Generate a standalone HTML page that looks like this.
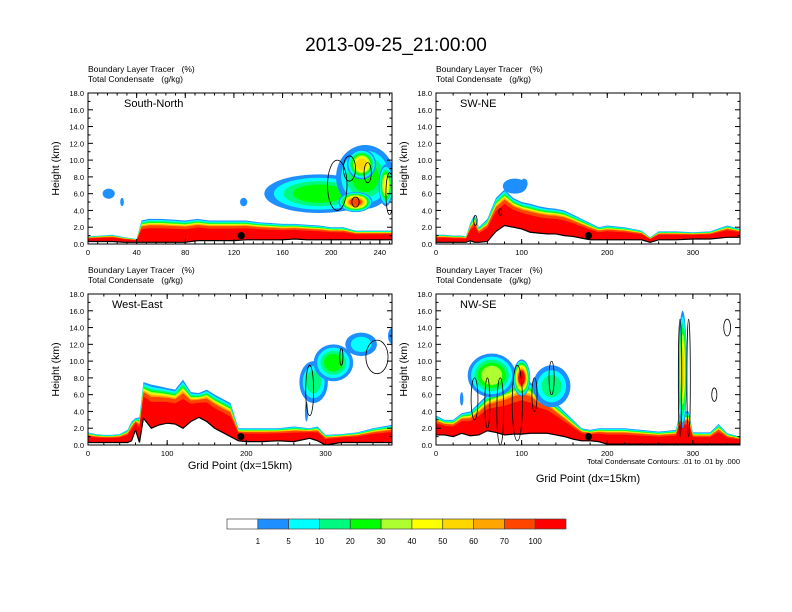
<!DOCTYPE html>
<html><head><meta charset="utf-8">
<style>
body{margin:0;background:#fff;}
svg{display:block;font-family:"Liberation Sans",sans-serif;}
text{white-space:pre;}
</style></head>
<body>
<svg id="fig" width="792" height="612" viewBox="0 0 792 612">
<rect width="792" height="612" fill="#fff"/>
<text x="396" y="51" text-anchor="middle" font-size="19">2013-09-25_21:00:00</text>
</svg>
<script>
const colors=["#ffffff","#1e8fff","#00ffff","#00fa7f","#00ff00","#adff2f","#ffff00","#ffd700","#ffa500","#ff4500","#ff0000"];
const cbLabels=["1","5","10","20","30","40","50","60","70","100"];
const yTicks=[0,2,4,6,8,10,12,14,16,18];

// Panel 1 South-North
const p1x=[0,10,20,30,40,44,50,60,70,80,90,100,110,120,130,140,150,160,170,180,190,200,210,220,230,240,250];
const p1terrain=[0.3,0.3,0.3,0.2,0.2,0.2,0.2,0.2,0.2,0.2,0.4,0.4,0.4,0.4,0.5,0.5,0.5,0.5,0.6,0.5,0.5,0.5,0.5,0.5,0.5,0.5,0.5];
const p1top=[0.9,1.0,1.1,0.8,0.6,2.8,3.0,3.0,2.9,2.8,3.0,2.8,2.8,2.8,2.8,2.6,2.5,2.4,2.4,2.3,2.2,2.0,2.0,1.6,1.6,1.6,1.6];
const p1cx=[17,28,128,190,228,225,220,245];
const p1cy=[6.0,5.0,5.0,6.0,8.0,9.5,5.0,7.0];
const p1rx=[5,1.5,3,45,24,12,14,6];
const p1ry=[0.6,0.5,0.5,2.3,3.8,1.8,1.2,2.5];
const p1lvl=[0,0,0,3,3,6,8,5];
const p1kx=[205,215,230,220,248];
const p1ky=[7.0,9.0,8.5,5.0,6.0];
const p1krx=[8,5,3,3,3];
const p1kry=[3,1.5,1.2,0.6,2.5];

// Panel 2 SW-NE
const p2x=[0,10,20,30,35,40,45,50,60,70,80,90,100,110,120,130,140,150,160,170,180,190,200,220,240,250,260,280,300,320,340,355];
const p2terrain=[0.2,0.2,0.2,0.2,0.2,0.4,0.2,0.2,0.3,1.5,2.2,2.0,1.8,1.4,1.3,1.2,1.2,1.0,0.9,0.7,0.5,0.5,0.5,0.5,0.5,0.2,0.5,0.5,0.6,0.6,0.8,0.8];
const p2top=[1.1,1.1,1.0,1.0,0.9,2.5,3.5,2.0,3.0,5.5,6.5,5.5,5.0,4.8,4.5,4.3,4.2,4.0,3.5,3.0,2.5,2.0,2.2,2.0,1.6,0.8,1.5,1.5,1.4,1.5,2.2,1.8];
const p2cx=[92,103];
const p2cy=[6.9,7.2];
const p2rx=[14,4];
const p2ry=[0.9,0.6];
const p2lvl=[0,0];
const p2kx=[46,75];
const p2ky=[2.8,3.8];
const p2krx=[2,1.5];
const p2kry=[0.6,0.4];

// Panel 3 West-East
const p3x=[0,10,20,30,40,50,55,60,65,70,80,90,100,110,120,130,140,150,160,170,180,190,200,220,240,260,280,290,300,320,340,360,384];
const p3terrain=[0.3,0.3,0.3,0.3,0.3,0.3,0.5,1.8,0.3,3.2,2.0,2.4,2.6,2.5,2.0,2.8,3.3,2.8,2.0,1.5,1.0,0.5,0.4,0.4,0.5,0.4,0.8,0.5,0.0,0.3,0.3,0.3,0.3];
const p3top=[1.5,1.3,1.2,1.2,1.3,1.8,2.8,3.2,3.3,7.5,7.2,7.0,6.8,6.6,7.8,6.3,6.2,6.6,6.0,5.5,5.0,2.0,2.0,2.0,2.0,2.2,2.0,2.2,1.2,1.3,1.5,2.0,2.4];
const p3cx=[285,310,345,385,276];
const p3cy=[7.5,9.8,12.0,13.0,4.0];
const p3rx=[18,25,20,6,2];
const p3ry=[2.5,2.2,1.4,1.0,1.2];
const p3lvl=[2,3,1,0,0];
const p3kx=[280,320,365];
const p3ky=[6.5,10.5,10.5];
const p3krx=[5,2,14];
const p3kry=[3,1,2];

// Panel 4 NW-SE
const p4x=[0,10,20,30,40,50,60,70,80,90,100,110,120,130,140,150,160,170,180,190,200,220,240,260,280,285,295,300,320,330,340,355];
const p4terrain=[1.2,1.2,1.0,1.4,1.1,1.2,1.7,1.5,1.2,1.3,1.3,1.4,1.4,1.4,1.2,1.0,0.7,0.5,0.5,0.4,0.1,0.1,0.1,0.1,0.1,0.1,0.1,0.1,0.1,0.1,0.1,0.1];
const p4top=[3.5,3.0,3.0,3.8,4.0,5.0,6.0,6.5,7.0,7.5,8.0,7.5,6.5,6.0,5.0,4.0,3.0,2.0,1.8,2.0,2.0,2.0,1.8,1.6,1.8,4,4,1.5,1.5,2.5,1.4,1.0];
const p4cx=[65,100,135,288,30];
const p4cy=[8.3,8.0,7.0,9.0,5.5];
const p4rx=[28,10,22,5,2];
const p4ry=[2.6,2.2,2.5,7.0,0.8];
const p4lvl=[4,9,2,6,0];
const p4kx=[45,60,75,95,115,135,285,295,340,325];
const p4ky=[5.5,5,4,5,6,8,8,8,14,6];
const p4krx=[4,3,4,6,3,3,2,2,4,3];
const p4kry=[2.5,3,4,4.5,2,2,7,7,1,0.8];

const NS="http://www.w3.org/2000/svg";
const svg=document.getElementById('fig');
function mk(tag,attrs,parent){const e=document.createElementNS(NS,tag);for(const k in attrs)e.setAttribute(k,attrs[k]);(parent||svg).appendChild(e);return e;}
const fracs=[1,0.95,0.9,0.86,0.83,0.8,0.78,0.76,0.72,0.6];

const panels=[
 {name:"south-north",label:"South-North",x0:88,y0:93,w:304,h:151,xmax:250,xt:[0,40,80,120,160,200,240],xminor:8,xs:p1x,ter:p1terrain,top:p1top,cx:p1cx,cy:p1cy,rx:p1rx,ry:p1ry,lv:p1lvl,kx:p1kx,ky:p1ky,krx:p1krx,kry:p1kry,dot:126},
 {name:"sw-ne",label:"SW-NE",x0:436,y0:93,w:304,h:151,xmax:355,xt:[0,100,200,300],xminor:20,xs:p2x,ter:p2terrain,top:p2top,cx:p2cx,cy:p2cy,rx:p2rx,ry:p2ry,lv:p2lvl,kx:p2kx,ky:p2ky,krx:p2krx,kry:p2kry,dot:178},
 {name:"west-east",label:"West-East",x0:88,y0:294,w:304,h:151,xmax:384,xt:[0,100,200,300],xminor:20,xs:p3x,ter:p3terrain,top:p3top,cx:p3cx,cy:p3cy,rx:p3rx,ry:p3ry,lv:p3lvl,kx:p3kx,ky:p3ky,krx:p3krx,kry:p3kry,dot:193,xtitle:true},
 {name:"nw-se",label:"NW-SE",x0:436,y0:294,w:304,h:151,xmax:355,xt:[0,100,200,300],xminor:20,xs:p4x,ter:p4terrain,top:p4top,cx:p4cx,cy:p4cy,rx:p4rx,ry:p4ry,lv:p4lvl,kx:p4kx,ky:p4ky,krx:p4krx,kry:p4kry,dot:178,xtitle:true,note:true}
];

panels.forEach((p,pi)=>{
 const X=v=>p.x0+v/p.xmax*p.w;
 const Y=v=>p.y0+p.h-v/18*p.h;
 const g=mk('g',{});
 
 
 const clipId='clip'+pi;
 const cp=mk('clipPath',{id:clipId},g);
 mk('rect',{x:p.x0,y:p.y0,width:p.w,height:p.h},cp);
 const plot=mk('g',{'clip-path':'url(#'+clipId+')'},g);
 
 
 for(let k=0;k<fracs.length;k++){
  let d='M'+X(p.xs[0])+','+Y(p.ter[0]);
  for(let i=0;i<p.xs.length;i++){d+=' L'+X(p.xs[i])+','+Y(p.ter[i]+(p.top[i]-p.ter[i])*fracs[k]);}
  for(let i=p.xs.length-1;i>=0;i--){d+=' L'+X(p.xs[i])+','+Y(p.ter[i]);}
  const band=mk('path',{d:d+'Z',fill:colors[k+1]},plot);
  
  
 }
 for(let c=0;c<p.cx.length;c++){
  for(let L=0;L<=p.lv[c];L++){
   const s=1-L/(p.lv[c]+1)*0.7;
   const e=mk('ellipse',{cx:X(p.cx[c]),cy:Y(p.cy[c]),rx:p.rx[c]/p.xmax*p.w*s,ry:p.ry[c]/18*p.h*s,fill:colors[L+1]},plot);
   
   
  }
 }
 let td='';
 for(let i=0;i<p.xs.length;i++){td+=(i?' L':'M')+X(p.xs[i])+','+Y(p.ter[i]);}
 const tl=mk('path',{d:td,fill:'none',stroke:'#000','stroke-width':1.2},plot);
 
 
 for(let c=0;c<p.kx.length;c++){
  const e=mk('ellipse',{cx:X(p.kx[c]),cy:Y(p.ky[c]),rx:p.krx[c]/p.xmax*p.w,ry:p.kry[c]/18*p.h,fill:'none',stroke:'#000','stroke-width':0.8},plot);
  
  
 }
 const dot=mk('circle',{cx:X(p.dot),cy:Y(1.0),r:3.6,fill:'#000'},g);
 
 
 const fr=mk('rect',{x:p.x0,y:p.y0,width:p.w,height:p.h,fill:'none',stroke:'#000','stroke-width':1},g);
 
 
 yTicks.forEach(v=>{
  const y=Y(v);
  mk('line',{x1:p.x0,x2:p.x0+5,y1:y,y2:y,stroke:'#000'},g);
  mk('line',{x1:p.x0+p.w,x2:p.x0+p.w-5,y1:y,y2:y,stroke:'#000'},g);
  const t=mk('text',{x:p.x0-4,y:y+3,'text-anchor':'end','font-size':7.5},g);
  t.textContent=v.toFixed(1);
  
  
 });
 for(let v=1;v<18;v+=2){const y=Y(v);mk('line',{x1:p.x0,x2:p.x0+2.5,y1:y,y2:y,stroke:'#000'},g);mk('line',{x1:p.x0+p.w,x2:p.x0+p.w-2.5,y1:y,y2:y,stroke:'#000'},g);}
 for(let v=0;v<=p.xmax;v+=p.xminor){const x=X(v);mk('line',{x1:x,x2:x,y1:p.y0+p.h,y2:p.y0+p.h-2.5,stroke:'#000'},g);mk('line',{x1:x,x2:x,y1:p.y0,y2:p.y0+2.5,stroke:'#000'},g);}
 p.xt.forEach(v=>{
  const x=X(v);
  mk('line',{x1:x,x2:x,y1:p.y0+p.h,y2:p.y0+p.h-5,stroke:'#000'},g);
  mk('line',{x1:x,x2:x,y1:p.y0,y2:p.y0+5,stroke:'#000'},g);
  const t=mk('text',{x:x,y:p.y0+p.h+11,'text-anchor':'middle','font-size':7.5},g);
  t.textContent=v;
  
  
 });
 const a=mk('text',{x:p.x0,y:p.y0-21,'font-size':8.5},g);a.textContent='Boundary Layer Tracer   (%)';
 
 
 const b=mk('text',{x:p.x0,y:p.y0-11,'font-size':8.5},g);b.textContent='Total Condensate   (g/kg)';
 
 
 const lb=mk('text',{x:p.x0+(pi%2?24:(pi==0?36:24)),y:p.y0+14,'font-size':11},g);lb.textContent=p.label;
 
 
 const yt=mk('text',{x:0,y:0,'font-size':10.5,'text-anchor':'middle',transform:'translate('+(p.x0-29)+','+(p.y0+p.h/2)+') rotate(-90)'},g);yt.textContent='Height (km)';
 
 
 if(p.xtitle){
  const xt=mk('text',{x:p.x0+p.w/2,y:p.note?482:469,'font-size':11,'text-anchor':'middle'},g);xt.textContent='Grid Point (dx=15km)';
  
  
 }
 if(p.note){
  const nt=mk('text',{x:p.x0+p.w,y:464,'font-size':7.5,'text-anchor':'end'},g);nt.textContent='Total Condensate Contours: .01 to .01 by .000';
  
  
 }
});

const cb=mk('g',{});


const cbx=227,cbw=339,cby=519,cbh=10,bw=cbw/colors.length;
colors.forEach((c,i)=>{
 const r=mk('rect',{x:cbx+i*bw,y:cby,width:bw,height:cbh,fill:c,stroke:'#444','stroke-width':0.7},cb);
 
 
});
cbLabels.forEach((l,i)=>{
 const t=mk('text',{x:cbx+(i+1)*bw,y:544,'font-size':8,'text-anchor':'middle'},cb);
 t.textContent=l;
 
 
});
</script>
</body></html>
